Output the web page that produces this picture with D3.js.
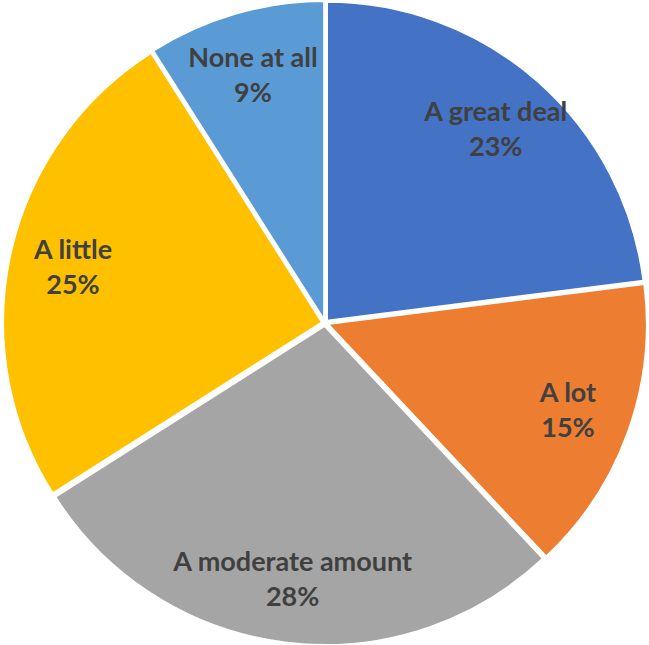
<!DOCTYPE html>
<html><head><meta charset="utf-8">
<script src="https://cdn.jsdelivr.net/npm/d3@7"></script>
<style>html,body{margin:0;padding:0;background:#fff;}</style>
</head><body>
<svg id="c" width="649" height="645"></svg>
<script>
const categories = ["A great deal", "A lot", "A moderate amount", "A little", "None at all"];
const values = [23, 15, 28, 25, 9];
const labels = ["23%", "15%", "28%", "25%", "9%"];
const colors = ["#4472C4", "#ED7D31", "#A5A5A5", "#FFC000", "#5B9BD5"];

const svg = d3.select("#c");
const cx = 325, cy = 323, r = 319, explode = 3;
const g = svg.append("g").attr("transform", `translate(${cx},${cy})`);
const pie = d3.pie().sort(null).value(d => d)(values);
const arc = d3.arc().innerRadius(0).outerRadius(r);
const labelArc = d3.arc().innerRadius(r * 0.8).outerRadius(r * 0.8);

const slices = g.selectAll("g.s").data(pie).join("g").attr("class", "s")
  .attr("transform", d => {
    const a = (d.startAngle + d.endAngle) / 2;
    return `translate(${Math.sin(a) * explode},${-Math.cos(a) * explode})`;
  });
slices.append("path").attr("d", arc).attr("fill", (d, i) => colors[i])
  .attr("stroke", "#fff").attr("stroke-width", 2);

const lab = slices.append("text")
  .attr("transform", d => `translate(${labelArc.centroid(d)})`)
  .attr("text-anchor", "middle")
  .attr("font-family", "Lato, 'Open Sans', sans-serif")
  .attr("font-weight", "bold").attr("font-size", 27).attr("fill", "#404040");
lab.append("tspan").attr("x", 0).attr("y", -8).text((d, i) => categories[i]);
lab.append("tspan").attr("x", 0).attr("y", 27).text((d, i) => labels[i]);
</script>
</body></html>
